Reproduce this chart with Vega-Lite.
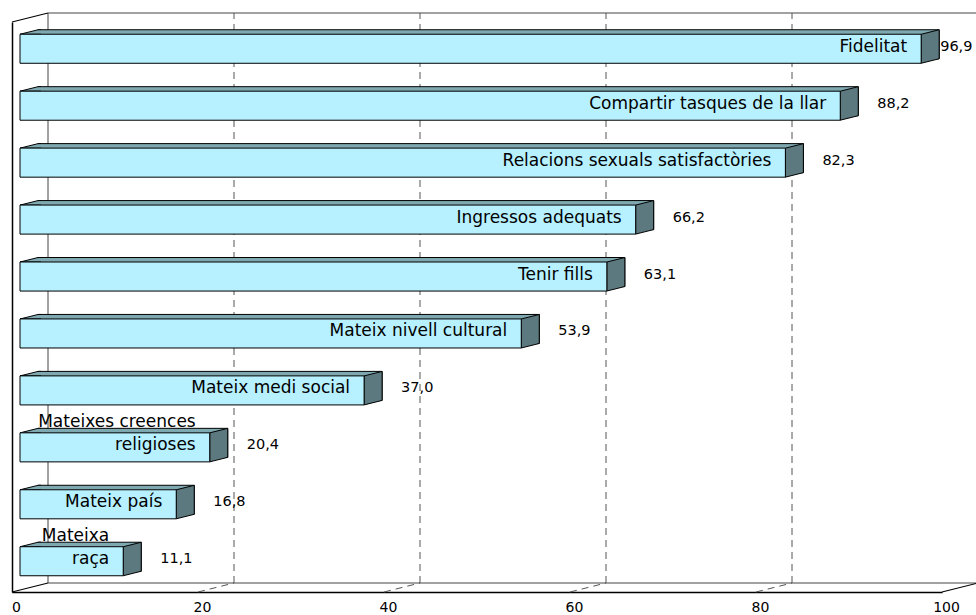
{
  "$schema": "https://vega.github.io/schema/vega-lite/v6.json",
  "width": 930,
  "height": 570,
  "autosize": {"type": "none"},
  "padding": {"left": 12, "top": 22, "right": 34, "bottom": 23},
  "datasets": {
    "bars": [
      {"cat": "Fidelitat", "upper": "", "label": "Fidelitat", "value": 96.9},
      {"cat": "Compartir tasques de la llar", "upper": "", "label": "Compartir tasques de la llar", "value": 88.2},
      {"cat": "Relacions sexuals satisfactòries", "upper": "", "label": "Relacions sexuals satisfactòries", "value": 82.3},
      {"cat": "Ingressos adequats", "upper": "", "label": "Ingressos adequats", "value": 66.2},
      {"cat": "Tenir fills", "upper": "", "label": "Tenir fills", "value": 63.1},
      {"cat": "Mateix nivell cultural", "upper": "", "label": "Mateix nivell cultural", "value": 53.9},
      {"cat": "Mateix medi social", "upper": "", "label": "Mateix medi social", "value": 37.0},
      {"cat": "Mateixes creences religioses", "upper": "Mateixes creences", "label": "religioses", "value": 20.4},
      {"cat": "Mateix país", "upper": "", "label": "Mateix país", "value": 16.8},
      {"cat": "Mateixa raça", "upper": "Mateixa", "label": "raça", "value": 11.1}
    ],
    "grid": [{"v": 20}, {"v": 40}, {"v": 60}, {"v": 80}],
    "edges": [{"v": 0}, {"v": 100}]
  },
  "layer": [
    {
      "layer": [
        {
          "data": {"values": [{}]},
          "mark": {"type": "rect", "fill": "white", "stroke": "#444", "strokeWidth": 1, "xOffset": 36, "x2Offset": 36, "yOffset": -9, "y2Offset": -9},
          "encoding": {
            "x": {"datum": 0, "type": "quantitative", "title": null, "scale": {"domain": [0, 100], "nice": false},
              "axis": {"values": [0, 20, 40, 60, 80, 100], "ticks": false, "grid": false, "domainColor": "black", "domainWidth": 1.5, "labelFontSize": 14, "labelPadding": 8, "labelColor": "black", "labelFlush": false, "labelOffset": 4, "format": "d"}},
            "x2": {"datum": 100},
            "y": {"datum": 0, "type": "quantitative", "scale": {"domain": [0, 1]}, "axis": null},
            "y2": {"datum": 1}
          }
        },
        {
          "data": {"name": "grid"},
          "mark": {"type": "rule", "stroke": "#555", "strokeWidth": 1, "strokeDash": [7, 5], "xOffset": 36, "yOffset": -9, "y2Offset": -9},
          "encoding": {
            "x": {"field": "v", "type": "quantitative", "title": null},
            "y": {"datum": 0, "type": "quantitative"},
            "y2": {"datum": 1}
          }
        },
        {
          "data": {"name": "grid"},
          "mark": {"type": "rule", "stroke": "#555", "strokeWidth": 1, "strokeDash": [7, 5], "x2Offset": 36, "y2Offset": -9},
          "encoding": {
            "x": {"field": "v", "type": "quantitative", "title": null},
            "x2": {"field": "v"},
            "y": {"datum": 0, "type": "quantitative"},
            "y2": {"datum": 0}
          }
        },
        {
          "data": {"name": "edges"},
          "mark": {"type": "rule", "stroke": "black", "strokeWidth": 1.2, "x2Offset": 36, "y2Offset": -9},
          "encoding": {
            "x": {"field": "v", "type": "quantitative", "title": null},
            "x2": {"field": "v"},
            "y": {"datum": 0, "type": "quantitative"},
            "y2": {"datum": 0}
          }
        },
        {
          "data": {"values": [{}]},
          "mark": {"type": "rule", "stroke": "black", "strokeWidth": 1.2, "x2Offset": 36, "y2Offset": -9},
          "encoding": {
            "x": {"datum": 0, "type": "quantitative", "title": null},
            "x2": {"datum": 0},
            "y": {"datum": 1, "type": "quantitative"},
            "y2": {"datum": 1}
          }
        }
      ]
    },
    {
      "data": {"name": "bars"},
      "encoding": {
        "y": {"field": "cat", "type": "nominal", "sort": null, "title": null,
          "scale": {"paddingInner": 0.49, "paddingOuter": 0.25},
          "axis": {"orient": "left", "labels": false, "ticks": false, "domain": true, "domainColor": "black", "domainWidth": 1.5, "title": null}}
      },
      "layer": [
        {
          "mark": {"type": "bar", "fill": "#7fa9b1", "stroke": "black", "strokeWidth": 1, "opacity": 1, "xOffset": 26, "x2Offset": 26, "yOffset": -6.5, "y2Offset": -6.5},
          "encoding": {
            "x": {"field": "value", "type": "quantitative", "stack": null, "title": null},
            "x2": {"datum": 0}
          }
        },
        {
          "mark": {"type": "point", "shape": "M21,-14.5L0,-14.5L18,-19L21,-19", "size": 4, "filled": true, "fill": "#7fa9b1", "stroke": "black", "strokeWidth": 1, "opacity": 1, "xOffset": 8, "yOffset": -2},
          "encoding": {"x": {"datum": 0, "type": "quantitative"}}
        },
        {
          "mark": {"type": "point", "shape": "M0,-14.5L18,-19L18,10L0,14.5Z", "size": 4, "filled": true, "fill": "#5b797e", "stroke": "black", "strokeWidth": 1, "opacity": 1, "xOffset": 8, "yOffset": -2},
          "encoding": {"x": {"field": "value", "type": "quantitative", "title": null}}
        },
        {
          "mark": {"type": "bar", "fill": "#b7f0ff", "stroke": "black", "strokeWidth": 1, "opacity": 1, "xOffset": 8, "x2Offset": 8, "yOffset": -2, "y2Offset": -2},
          "encoding": {
            "x": {"field": "value", "type": "quantitative", "stack": null, "title": null},
            "x2": {"datum": 0}
          }
        },
        {
          "mark": {"type": "text", "align": "right", "baseline": "bottom", "fontSize": 17, "color": "black", "dx": -6, "dy": 5},
          "encoding": {
            "x": {"field": "value", "type": "quantitative", "title": null},
            "text": {"field": "label"}
          }
        },
        {
          "mark": {"type": "text", "align": "right", "baseline": "bottom", "fontSize": 17, "color": "black", "dx": -6, "dy": -18},
          "encoding": {
            "x": {"field": "value", "type": "quantitative", "title": null},
            "text": {"field": "upper"}
          }
        },
        {
          "transform": [{"filter": "datum.value < 95"}],
          "mark": {"type": "text", "align": "left", "baseline": "middle", "fontSize": 14.5, "color": "black", "dx": 45, "dy": -4},
          "encoding": {
            "x": {"field": "value", "type": "quantitative", "title": null},
            "text": {"field": "value", "type": "quantitative", "format": ".1f"}
          }
        },
        {
          "transform": [{"filter": "datum.value >= 95"}],
          "mark": {"type": "text", "align": "left", "baseline": "middle", "fontSize": 14.5, "color": "black", "dx": 27, "dy": -4},
          "encoding": {
            "x": {"field": "value", "type": "quantitative", "title": null},
            "text": {"field": "value", "type": "quantitative", "format": ".1f"}
          }
        }
      ]
    }
  ],
  "resolve": {"scale": {"y": "independent"}},
  "config": {
    "font": "DejaVu Sans",
    "view": {"stroke": null},
    "locale": {"number": {"decimal": ",", "thousands": ".", "grouping": [3], "currency": ["", " €"]}}
  }
}
